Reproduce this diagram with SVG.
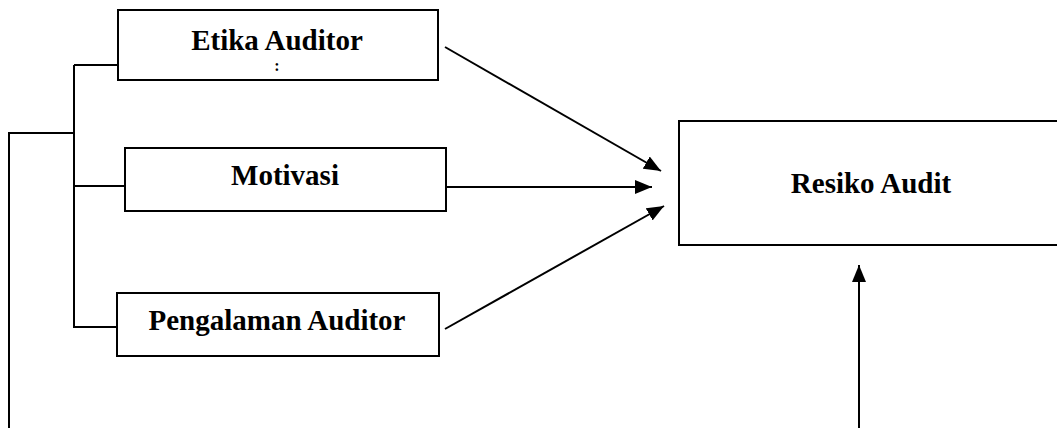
<svg xmlns="http://www.w3.org/2000/svg" width="1057" height="428" viewBox="0 0 1057 428">
  <style>
    .box { fill: #ffffff; stroke: #000000; stroke-width: 2; }
    .line { fill: none; stroke: #000000; stroke-width: 2; }
    .label { font-family: "Liberation Serif", "Times New Roman", serif; font-weight: bold; font-size: 29px; fill: #000000; text-anchor: middle; }
    .small { font-size: 16px; }
  </style>
  <defs>
    <marker id="arrow" markerUnits="userSpaceOnUse" markerWidth="18" markerHeight="14" refX="17" refY="7" orient="auto">
      <path d="M0,0 L17,7 L0,14 Z" fill="#000000"/>
    </marker>
  </defs>
  <rect width="1057" height="428" fill="#ffffff"/>

  <g id="connectors">
    <!-- bracket joining the three independent variables -->
    <path class="line" d="M74,65 V328"/>
    <path class="line" d="M74,65 H118"/>
    <path class="line" d="M74,186 H125"/>
    <path class="line" d="M74,327 H117"/>
    <path class="line" d="M9,428 V133 H74"/>
    <!-- arrows into the dependent variable -->
    <path class="line" d="M445,47 L661,171" marker-end="url(#arrow)"/>
    <path class="line" d="M446,187 L652,187" marker-end="url(#arrow)"/>
    <path class="line" d="M445,329 L664,206" marker-end="url(#arrow)"/>
    <path class="line" d="M859,428 L859,265" marker-end="url(#arrow)"/>
  </g>

  <g id="etika-auditor">
    <rect class="box" x="118" y="10" width="320" height="70"/>
    <text class="label" x="277" y="50">Etika Auditor</text>
    <text class="label small" x="277" y="71">:</text>
  </g>

  <g id="motivasi">
    <rect class="box" x="125" y="148" width="321" height="63"/>
    <text class="label" x="285" y="185">Motivasi</text>
  </g>

  <g id="pengalaman-auditor">
    <rect class="box" x="117" y="293" width="322" height="63"/>
    <text class="label" x="277" y="330">Pengalaman Auditor</text>
  </g>

  <g id="resiko-audit">
    <rect class="box" x="679" y="121" width="400" height="124"/>
    <text class="label" x="871" y="193">Resiko Audit</text>
  </g>
</svg>
